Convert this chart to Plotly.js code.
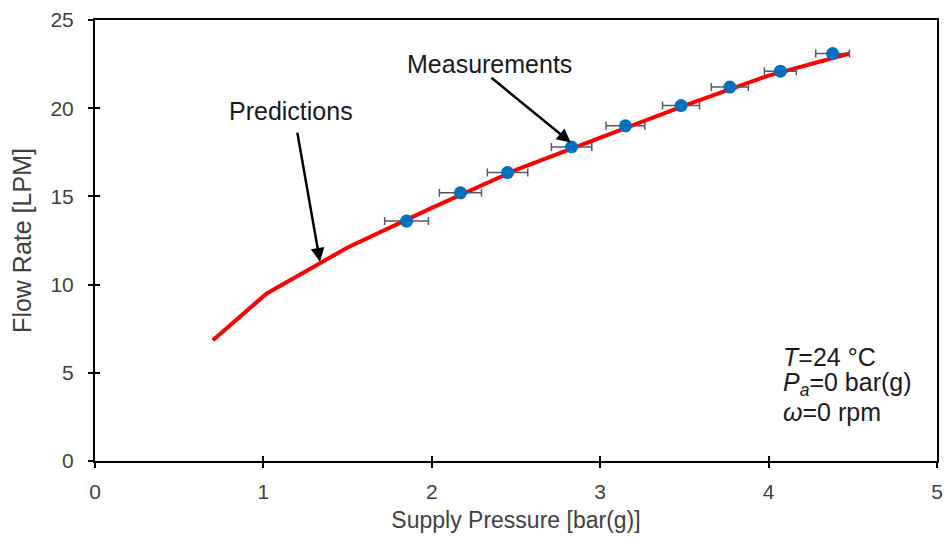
<!DOCTYPE html>
<html>
<head>
<meta charset="utf-8">
<script src="https://cdn.plot.ly/plotly-3.0.1.min.js"></script>
<style>html,body{margin:0;padding:0;background:#fff;}#chart{width:946px;height:541px;}</style>
</head>
<body>
<div id="chart"></div>
<script>
// Prediction curve
var predPressure = [0.70, 1.02, 1.50, 2.00, 2.50, 3.00, 3.50, 4.00, 4.48];
var predFlow     = [6.85, 9.50, 12.10, 14.35, 16.50, 18.35, 20.15, 21.85, 23.10];

// Measurements
var measPressure = [1.85, 2.17, 2.45, 2.83, 3.15, 3.48, 3.77, 4.07, 4.38];
var measFlow     = [13.6, 15.2, 16.35, 17.8, 19.0, 20.15, 21.2, 22.1, 23.1];
var measPressErr = [0.13, 0.125, 0.12, 0.12, 0.115, 0.11, 0.11, 0.095, 0.10];

var xTicks = [0, 1, 2, 3, 4, 5];
var yTicks = [0, 5, 10, 15, 20, 25];

var FAM = 'Liberation Sans, Arial, sans-serif';
var tickFont = {family: FAM, size: 21, color: '#404040'};
var noteFont = {family: FAM, size: 25, color: '#1a1a1a'};

var traces = [
  {
    x: predPressure, y: predFlow, type: 'scatter', mode: 'lines',
    line: {color: '#FF0000', width: 4}, hoverinfo: 'skip'
  },
  {
    x: measPressure, y: measFlow, type: 'scatter', mode: 'markers',
    marker: {color: '#0070C0', size: 13},
    error_x: {type: 'data', array: measPressErr, visible: true, color: '#595959', thickness: 1.5, width: 4}
  },
  {x: [], y: [], xaxis: 'x2', yaxis: 'y2', type: 'scatter', mode: 'markers'}
];

var axisCommon = {
  showgrid: false, zeroline: false, showline: true, linecolor: '#000', linewidth: 2,
  ticks: 'outside', ticklen: 5, tickwidth: 2, tickcolor: '#000', mirror: true,
  tickfont: tickFont
};

var layout = {
  width: 946, height: 541,
  margin: {l: 95, r: 9, t: 20, b: 80},
  paper_bgcolor: '#fff', plot_bgcolor: '#fff',
  showlegend: false,
  font: tickFont,
  xaxis: Object.assign({}, axisCommon, {
    range: [0, 5], tickvals: xTicks, ticktext: xTicks.map(String),
    ticklabelstandoff: 6,
    title: {text: 'Supply Pressure [bar(g)]', font: {family: FAM, size: 23, color: '#404040'}, standoff: 10}
  }),
  yaxis: Object.assign({}, axisCommon, {
    range: [0, 25], tickvals: yTicks, ticktext: yTicks.map(String),
    ticklabelstandoff: 10,
    title: {text: 'Flow Rate [LPM]', font: {family: FAM, size: 25, color: '#404040'}, standoff: 12}
  }),
  xaxis2: {overlaying: 'x', anchor: 'y2', range: [0, 5], tickvals: xTicks, showticklabels: false,
    ticks: 'inside', ticklen: 5, tickwidth: 2, tickcolor: '#000', showgrid: false, zeroline: false, showline: false},
  yaxis2: {overlaying: 'y', anchor: 'x2', range: [0, 25], tickvals: yTicks, showticklabels: false,
    ticks: 'inside', ticklen: 5, tickwidth: 2, tickcolor: '#000', showgrid: false, zeroline: false, showline: false},
  annotations: [
    {x: 2.825, y: 18.05, xref: 'x', yref: 'y', text: '', showarrow: true,
     axref: 'x', ayref: 'y', ax: 2.345, ay: 21.8, arrowhead: 2, arrowsize: 1.1, arrowwidth: 2.5, arrowcolor: '#000', standoff: 0},
    {x: 2.34, y: 22.5, xref: 'x', yref: 'y', text: 'Measurements', showarrow: false, font: noteFont},
    {x: 1.336, y: 11.3, xref: 'x', yref: 'y', text: '', showarrow: true,
     axref: 'x', ayref: 'y', ax: 1.2, ay: 18.7, arrowhead: 2, arrowsize: 1.1, arrowwidth: 2.5, arrowcolor: '#000', standoff: 0},
    {x: 1.164, y: 19.84, xref: 'x', yref: 'y', text: 'Predictions', showarrow: false, font: noteFont},
    {x: 0.815, y: 5.9, xref: 'paper', yref: 'y', xanchor: 'left', yanchor: 'middle', align: 'left',
     text: '<i>T</i>=24 °C', showarrow: false, font: noteFont},
    {x: 0.815, y: 4.35, xref: 'paper', yref: 'y', xanchor: 'left', yanchor: 'middle', align: 'left',
     text: '<i>P<sub>a</sub></i>=0 bar(g)', showarrow: false, font: noteFont},
    {x: 0.815, y: 2.8, xref: 'paper', yref: 'y', xanchor: 'left', yanchor: 'middle', align: 'left',
     text: '<i>ω</i>=0 rpm', showarrow: false, font: noteFont}
  ]
};

Plotly.newPlot('chart', traces, layout, {staticPlot: true, displayModeBar: false});
</script>
</body>
</html>
